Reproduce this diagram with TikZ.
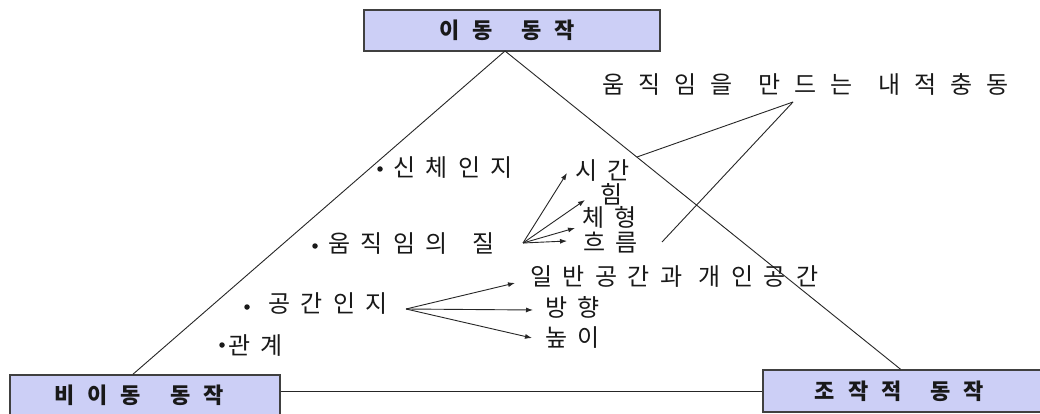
\documentclass[tikz,border=0pt]{standalone}
\usepackage{fontspec}
\usetikzlibrary{arrows.meta}
\newfontfamily\kr[LetterSpace=43.75]{Noto Sans CJK KR}
\newfontfamily\krw[LetterSpace=58]{Noto Sans CJK KR}
\newfontfamily\krb[LetterSpace=59]{Noto Sans CJK KR}
\newcommand\kg{\hspace{24pt}}
\newcommand\kgs{\hspace{16pt}}
\newcommand\kgb{\hspace{29pt}}
\newcommand\kgw{\hspace{26pt}}
\definecolor{boxfill}{RGB}{204,207,246}
\definecolor{ink}{RGB}{25,25,25}
\begin{document}
\begin{tikzpicture}[x=1pt,y=-1pt,
  box/.style={draw=black!75,line width=1.6pt,fill=boxfill,inner sep=0pt,
    font=\krb\bfseries\fontsize{22}{26}\selectfont,text=ink},
  txt/.style={anchor=west,inner sep=0pt,text height=17pt,text depth=1pt,
    font=\kr\fontsize{24}{26}\selectfont,text=ink},
  dot/.style={circle,fill=ink,inner sep=0pt,minimum size=5.5pt},
  ln/.style={draw=black!85,line width=0.9pt},
  arr/.style={ln,-{Latex[length=7pt,width=5pt]}}]
\clip (0,0) rectangle (1040,414);
\fill[white] (0,0) rectangle (1040,414);
% boxes
\node[box,minimum width=296pt,minimum height=41pt] (top) at (512,30.5) {\hspace*{-10pt}이동\kgb 동작};
\node[box,minimum width=270pt,minimum height=41pt] (bl) at (145,395.5) {\hspace*{-12pt}비이동\kgb 동작};
\node[box,minimum width=279pt,minimum height=42pt] (br) at (902.5,391) {\hspace*{-6pt}조작적\kgb 동작};
% triangle
\coordinate (apex) at (505,51);
\draw[ln] (apex) -- ([xshift=-12pt]bl.north);
\draw[ln] (apex) -- ([xshift=-2pt]br.north);
\draw[ln] (br.west -| bl.east) -- (br.west);
% top right label
\node[txt,font=\krw\fontsize{24}{26}\selectfont] (nj) at (602,86) {움직임을\kgw 만드는\kgw 내적충동};
% bullets
\node[dot] (d1) at (380,169) {};
\node[txt] (sc) at (393,168) {신체인지};
\node[dot] (d2) at (315,246) {};
\node[txt] (qm) at (328,244) {움직임의\kg 질};
\node[dot] (d3) at (247,307) {};
\node[txt] (gk) at (268,304) {공간인지};
\node[dot] (d4) at (222,345) {};
\node[txt] (gg) at (228,346) {관계};
% quality items
\node[txt] (si) at (575,171) {시간};
\node[txt] (hm) at (600,195) {힘};
\node[txt] (ch) at (582,218) {체형};
\node[txt] (hr) at (583,243) {흐름};
% space items
\node[txt] (il) at (530,277) {일반공간과\kgs 개인공간};
\node[txt] (bh) at (545,308) {방향};
\node[txt] (np) at (545,338) {높이};
% arrows from quality
\coordinate (q) at (523,243);
\draw[arr] (q) -- (567,173);
\draw[arr] (q) -- (585,200);
\draw[arr] (q) -- (575,228);
\draw[arr] (q) -- (567,241);
% arrows from space
\coordinate (s) at (406,309);
\draw[arr] (s) -- (515,283);
\draw[arr] (s) -- (533,310);
\draw[arr] (s) -- (532,338);
% lines to inner impulse label
\coordinate (nv) at (793,102);
\draw[ln] (637,157) -- (nv);
\draw[ln] (662,242) -- (nv);
\end{tikzpicture}
\end{document}
